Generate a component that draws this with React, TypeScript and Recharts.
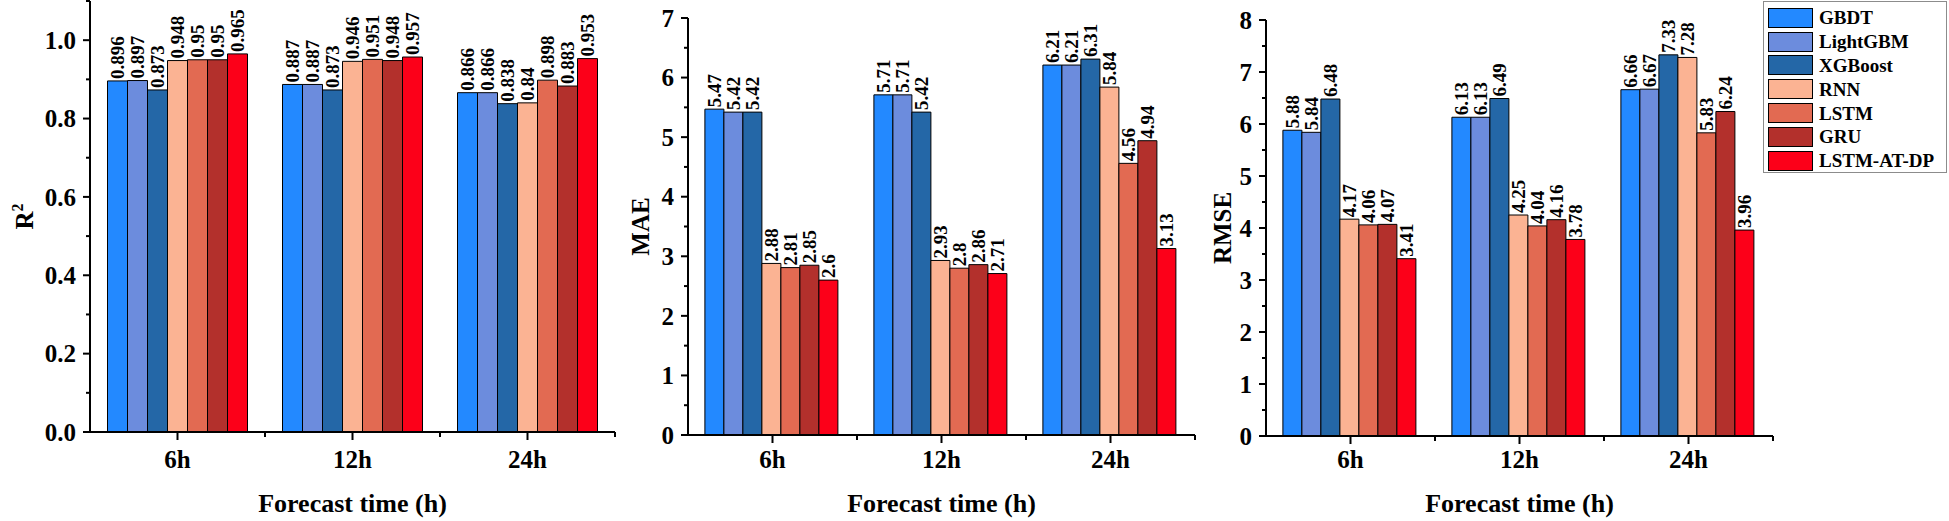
import { BarChart, Bar, XAxis, YAxis, LabelList, Legend, Label } from 'recharts'

const categories = ['6h', '12h', '24h']
const models = ['GBDT', 'LightGBM', 'XGBoost', 'RNN', 'LSTM', 'GRU', 'LSTM-AT-DP']
const colors = ['#2389FF', '#6C8CDD', '#2467A7', '#FBB393', '#E26A52', '#B3302C', '#FC0019']

// one row per model, one value per forecast time
const r2Values = [
  [0.896, 0.887, 0.866],
  [0.897, 0.887, 0.866],
  [0.873, 0.873, 0.838],
  [0.948, 0.946, 0.84],
  [0.95, 0.951, 0.898],
  [0.95, 0.948, 0.883],
  [0.965, 0.957, 0.953],
]
const maeValues = [
  [5.47, 5.71, 6.21],
  [5.42, 5.71, 6.21],
  [5.42, 5.42, 6.31],
  [2.88, 2.93, 5.84],
  [2.81, 2.8, 4.56],
  [2.85, 2.86, 4.94],
  [2.6, 2.71, 3.13],
]
const rmseValues = [
  [5.88, 6.13, 6.66],
  [5.84, 6.13, 6.67],
  [6.48, 6.49, 7.33],
  [4.17, 4.25, 7.28],
  [4.06, 4.04, 5.83],
  [4.07, 4.16, 6.24],
  [3.41, 3.78, 3.96],
]

const r2Ticks = [0, 0.1, 0.2, 0.3, 0.4, 0.5, 0.6, 0.7, 0.8, 0.9, 1.0, 1.1]
const r2Labels = [0, 0.2, 0.4, 0.6, 0.8, 1.0]
const maeTicks = [0, 0.5, 1, 1.5, 2, 2.5, 3, 3.5, 4, 4.5, 5, 5.5, 6, 6.5, 7]
const maeLabels = [0, 1, 2, 3, 4, 5, 6, 7]
const rmseTicks = [0, 0.5, 1, 1.5, 2, 2.5, 3, 3.5, 4, 4.5, 5, 5.5, 6, 6.5, 7, 7.5, 8]
const rmseLabels = [0, 1, 2, 3, 4, 5, 6, 7, 8]

const FONT = "'Liberation Serif', 'Times New Roman', serif"
const W = 1949
const H = 521
const AXIS_OFFSET = 90
const X_AXIS_H = 60

const ValueLabel = (props: any) => {
  const { x, y, width, value } = props
  const cx = Number(x) + Number(width) / 2
  return (
    <text
      transform={`translate(${cx + 6.5},${Number(y) - 2}) rotate(-90)`}
      fontFamily={FONT}
      fontWeight="bold"
      fontSize={19}
      fill="#000"
    >
      {String(value)}
    </text>
  )
}

const LegendBox = () => (
  <div
    style={{
      width: 184,
      height: 172,
      border: '1px solid #8c8c8c',
      background: '#fff',
      boxSizing: 'border-box',
      paddingTop: 4,
      paddingLeft: 4,
    }}
  >
    {models.map((m, i) => (
      <div key={m} style={{ display: 'flex', alignItems: 'center', height: 23.8 }}>
        <span
          style={{
            display: 'inline-block',
            width: 45,
            height: 20,
            background: colors[i],
            border: '1px solid #000',
            boxSizing: 'border-box',
          }}
        />
        <span
          style={{
            marginLeft: 6,
            fontFamily: FONT,
            fontWeight: 'bold',
            fontSize: 19,
            color: '#000',
            lineHeight: 1,
          }}
        >
          {m}
        </span>
      </div>
    ))}
  </div>
)

interface PanelProps {
  values: number[][]
  ticks: number[]
  labels: number[]
  digits: number
  domain: [number, number]
  title: string
  sup?: string
  axisX: number
  axisEnd: number
  plotTop: number
  plotBottom: number
  titleX: number
  legend?: boolean
}

function Panel(p: PanelProps) {
  const left = p.axisX - AXIS_OFFSET
  const plotW = p.axisEnd - p.axisX
  const width = p.legend ? W - left : plotW + AXIS_OFFSET + 10
  const band = plotW / categories.length
  const plotH = p.plotBottom - p.plotTop

  const data = categories.map((cat, i) => {
    const row: any = { cat }
    models.forEach((m, j) => {
      row[m] = p.values[j][i]
    })
    return row
  })

  const renderYTick = (props: any) => {
    const { y, payload } = props
    const v = payload.value
    const major = p.labels.some((l) => Math.abs(l - v) < 1e-9)
    return (
      <g>
        <line
          x1={AXIS_OFFSET - (major ? 7 : 4)}
          x2={AXIS_OFFSET}
          y1={y}
          y2={y}
          stroke="#000"
          strokeWidth={2}
        />
        {major && (
          <text
            x={AXIS_OFFSET - 14}
            y={y}
            dy="0.35em"
            textAnchor="end"
            fontFamily={FONT}
            fontWeight="bold"
            fontSize={25}
            fill="#000"
          >
            {v.toFixed(p.digits)}
          </text>
        )}
      </g>
    )
  }

  const renderXTick = (props: any) => {
    const { x, payload } = props
    return (
      <g>
        <line x1={x} x2={x} y1={p.plotBottom} y2={p.plotBottom + 8} stroke="#000" strokeWidth={2} />
        <line
          x1={x + band / 2}
          x2={x + band / 2}
          y1={p.plotBottom}
          y2={p.plotBottom + 5}
          stroke="#000"
          strokeWidth={2}
        />
        <text
          x={x}
          y={468}
          textAnchor="middle"
          fontFamily={FONT}
          fontWeight="bold"
          fontSize={25}
          fill="#000"
        >
          {payload.value}
        </text>
      </g>
    )
  }

  const yTitle = () => {
    const tx = p.titleX - left
    const ty = p.plotTop + plotH / 2
    return (
      <text
        transform={`translate(${tx},${ty}) rotate(-90)`}
        textAnchor="middle"
        fontFamily={FONT}
        fontWeight="bold"
        fontSize={25}
        fill="#000"
      >
        {p.title}
        {p.sup && (
          <tspan dy={-10} fontSize={16}>
            {p.sup}
          </tspan>
        )}
      </text>
    )
  }

  const xTitle = () => (
    <text
      x={AXIS_OFFSET + plotW / 2}
      y={512}
      textAnchor="middle"
      fontFamily={FONT}
      fontWeight="bold"
      fontSize={26}
      fill="#000"
    >
      Forecast time (h)
    </text>
  )

  return (
    <div style={{ position: 'absolute', left, top: 0 }}>
      <BarChart
        width={width}
        height={H}
        data={data}
        barCategoryGap="10%"
        barGap={0}
        margin={{
          top: p.plotTop,
          left: AXIS_OFFSET - 80,
          right: width - AXIS_OFFSET - plotW,
          bottom: H - p.plotBottom - X_AXIS_H,
        }}
      >
        <XAxis
          dataKey="cat"
          height={X_AXIS_H}
          interval={0}
          tickLine={false}
          axisLine={{ stroke: '#000', strokeWidth: 2 }}
          tick={renderXTick}
        >
          <Label content={xTitle} />
        </XAxis>
        <YAxis
          type="number"
          width={80}
          domain={p.domain}
          ticks={p.ticks}
          interval={0}
          allowDataOverflow
          tickLine={false}
          axisLine={{ stroke: '#000', strokeWidth: 2 }}
          tick={renderYTick}
        >
          <Label content={yTitle} />
        </YAxis>
        {models.map((m, i) => (
          <Bar
            key={m}
            dataKey={m}
            name={m}
            fill={colors[i]}
            stroke="#000"
            strokeWidth={1}
            isAnimationActive={false}
          >
            <LabelList dataKey={m} content={ValueLabel} />
          </Bar>
        ))}
        {p.legend && (
          <Legend
            layout="vertical"
            align="center"
            verticalAlign="middle"
            content={LegendBox}
            wrapperStyle={{ left: 1763 - left, top: 1, width: 184 }}
          />
        )}
      </BarChart>
    </div>
  )
}

export default function App() {
  return (
    <div style={{ position: 'absolute', left: 0, top: 0, width: W, height: H, background: '#fff' }}>
      <Panel
        values={r2Values}
        ticks={r2Ticks}
        labels={r2Labels}
        digits={1}
        domain={[0, 1.1]}
        title="R"
        sup="2"
        axisX={90}
        axisEnd={615}
        plotTop={1}
        plotBottom={432}
        titleX={33}
      />
      <Panel
        values={maeValues}
        ticks={maeTicks}
        labels={maeLabels}
        digits={0}
        domain={[0, 7]}
        title="MAE"
        axisX={688}
        axisEnd={1195}
        plotTop={18}
        plotBottom={435}
        titleX={649}
      />
      <Panel
        values={rmseValues}
        ticks={rmseTicks}
        labels={rmseLabels}
        digits={0}
        domain={[0, 8]}
        title="RMSE"
        axisX={1266}
        axisEnd={1773}
        plotTop={20}
        plotBottom={436}
        titleX={1231}
        legend
      />
    </div>
  )
}
